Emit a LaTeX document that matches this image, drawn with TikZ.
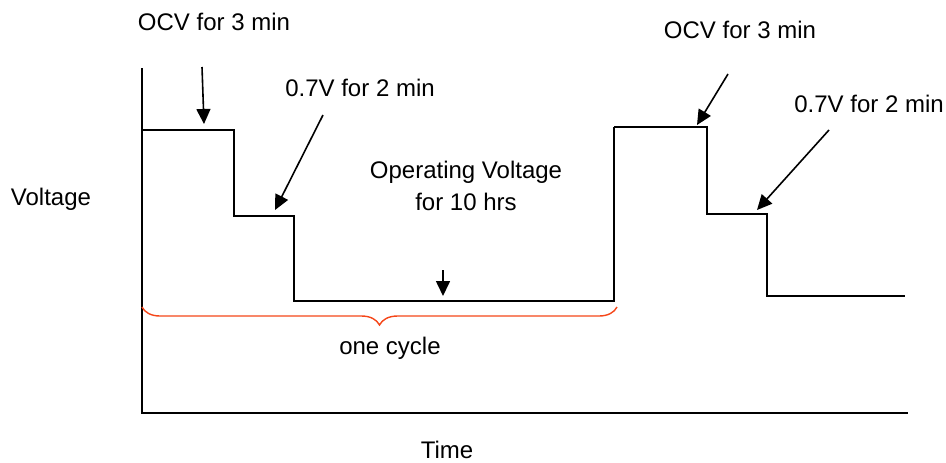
\documentclass[tikz,border=0pt]{standalone}
\usepackage{fontspec}
\setmainfont{Liberation Sans}
\usetikzlibrary{positioning,arrows.meta,decorations.pathreplacing}
\definecolor{bracered}{RGB}{245,70,25}

\begin{document}
\begin{tikzpicture}[
  x=0.5pt, y=-0.5pt,
  lbl/.style={font=\fontsize{12}{14}\selectfont, inner sep=0pt, align=center},
  arrow/.style={-{Triangle[length=7.5pt,width=7pt]}, line width=0.8pt},
  wave/.style={line width=0.9pt},
  axis/.style={line width=0.9pt}
]
\useasboundingbox (0,0) rectangle (946,462);

% Axes
\coordinate (orig) at (142,413);
\coordinate (ytop) at (142,68);
\coordinate (xend) at (908,413);
\draw[axis] (ytop) -- (orig) -- (xend);
\node[lbl] (volt) at (51,199) {Voltage};
\node[lbl] (time) at (447,450) {Time};

% First cycle
\draw[wave] (142,130) -- (234,130) -- (234,216) -- (294,216) -- (294,301)
  -- (614,301) -- (614,127);
% Second cycle
\draw[wave] (614,127) -- (707,127) -- (707,214) -- (767,214) -- (767,296)
  -- (905,296);

% Labels
\node[lbl] (ocv1) at (214,22) {OCV for 3 min};
\node[lbl] (low1) at (360,88) {0.7V for 2 min};
\node[lbl] (oper) at (466,186) {Operating Voltage\\[2pt]for 10 hrs};
\node[lbl] (ocv2) at (740,30) {OCV for 3 min};
\node[lbl] (low2) at (869,104) {0.7V for 2 min};

% Arrow ends
\coordinate (a1s) at (202,67);   \coordinate (a1e) at (204,124);
\coordinate (a2s) at (323,115);  \coordinate (a2e) at (275,210);
\coordinate (a3s) at (443,270);  \coordinate (a3e) at (443,296);
\coordinate (a4s) at (728,74);   \coordinate (a4e) at (697,125);
\coordinate (a5s) at (829,130);  \coordinate (a5e) at (757,210);

% Arrows
\draw[arrow] (a1s) -- (a1e);
\draw[arrow] (a2s) -- (a2e);
\draw[arrow] (a3s) -- (a3e);
\draw[arrow] (a4s) -- (a4e);
\draw[arrow] (a5s) -- (a5e);

% One cycle brace
\coordinate (brL) at (142,307);
\coordinate (brR) at (617,307);
\draw[bracered, line width=0.7pt, decorate,
      decoration={brace, mirror, amplitude=9pt}] (brL) -- (brR);
\node[lbl] (cyc) at (390,348) {one cycle};

\end{tikzpicture}
\end{document}
